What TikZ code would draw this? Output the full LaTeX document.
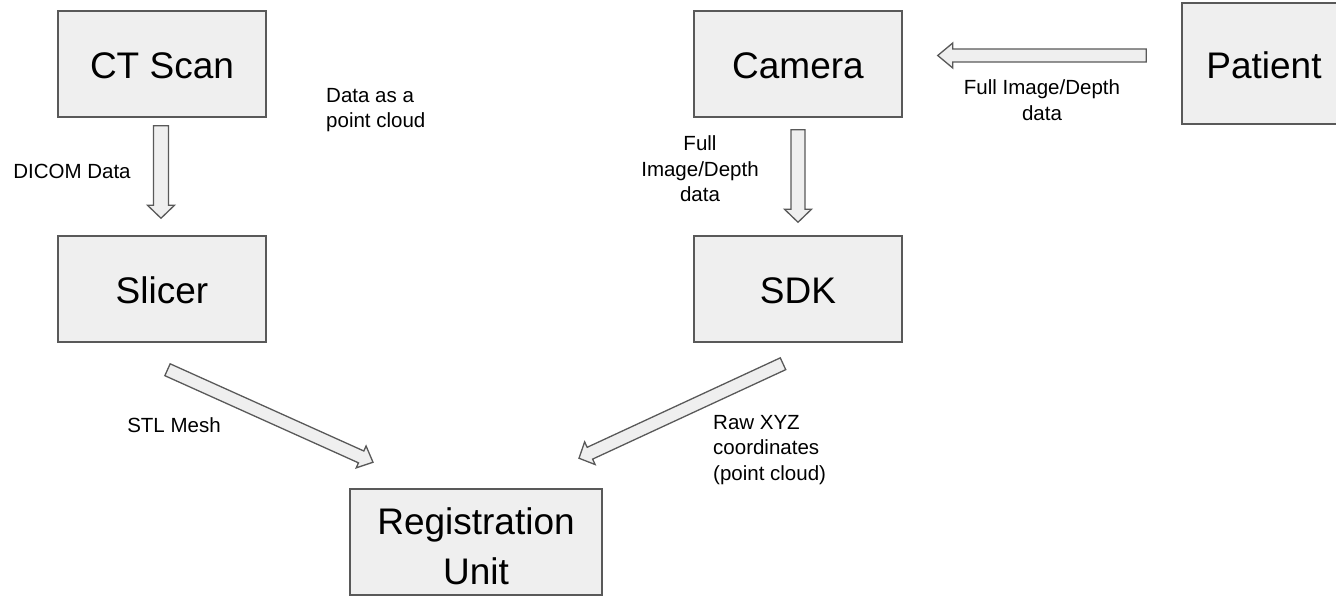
\documentclass[tikz,border=0pt]{standalone}
\usepackage{fontspec}
\setmainfont{Liberation Sans}
\usetikzlibrary{calc}
\definecolor{boxfill}{HTML}{EFEFEF}
\definecolor{boxline}{HTML}{595959}
% block arrow: from, to, half shaft width, half head width, head length
\newcommand\blockarrow[5]{%
  \coordinate (ba-h) at ($(#2)!#5!(#1)$);
  \draw[blockarr] ($(#1)!#3!90:(#2)$) -- ($(ba-h)!#3!90:(#2)$) -- ($(ba-h)!#4!90:(#2)$) -- (#2)
    -- ($(ba-h)!#4!-90:(#2)$) -- ($(ba-h)!#3!-90:(#2)$) -- ($(#1)!#3!-90:(#2)$) -- cycle;
}
\tikzset{
  box/.style={draw=boxline, fill=boxfill, line width=1.5pt, minimum width=208pt,
    minimum height=106pt, inner sep=0pt, font=\fontsize{37}{50}\selectfont, align=center},
  lbl/.style={font=\fontsize{20.5}{25.5}\selectfont, inner sep=0pt},
  blockarr/.style={draw=boxline, fill=boxfill, line width=1.3pt, line join=miter},
}
\begin{document}
\begin{tikzpicture}[x=1pt,y=-1pt]
\useasboundingbox (0,0) rectangle (1336,596);
\node[box] (ct) at (162,64) {\rule{0pt}{30pt}CT Scan};
\node[box] (slicer) at (162,289) {\rule{0pt}{30pt}Slicer};
\node[box] (camera) at (798,64) {\rule{0pt}{29pt}Camera};
\node[box] (sdk) at (798,289) {\rule{0pt}{30pt}SDK};
\node[box, minimum width=164pt, minimum height=121pt] (patient) at (1264,63.5) {\rule{0pt}{30pt}Patient};
\node[box, minimum width=252pt] (reg) at (476,542) {\rule{0pt}{36pt}Registration\\Unit};

\coordinate (a1s) at ($(ct.south)+(-1,8)$);
\coordinate (a1e) at ($(slicer.north)+(-1,-17)$);
\coordinate (a2s) at ($(camera.south)+(0,12)$);
\coordinate (a2e) at ($(sdk.north)+(0,-13)$);
\coordinate (a3s) at ($(patient.west)+(-35,-8)$);
\coordinate (a3e) at ($(camera.east)+(35,-8.5)$);
\coordinate (a4s) at ($(slicer.south)+(5.5,27)$);
\coordinate (a4e) at ($(reg.north)+(-103,-26)$);
\coordinate (a5s) at ($(sdk.south)+(-15,21)$);
\coordinate (a5e) at ($(reg.north)+(103,-30)$);

\blockarrow{a1s}{a1e}{7.5pt}{13.5pt}{13pt}
\blockarrow{a2s}{a2e}{7pt}{13.5pt}{13pt}
\blockarrow{a3s}{a3e}{6.5pt}{12.5pt}{15pt}
\blockarrow{a4s}{a4e}{6.5pt}{12pt}{13pt}
\blockarrow{a5s}{a5e}{6.5pt}{12.5pt}{12pt}

\node[lbl] (l1) at (72,171) {DICOM Data};
\node[lbl, anchor=west, align=left] (l2) at (326,110) {Data as a\\point cloud};
\node[lbl, align=center] (l3) at (1042,100) {Full Image/Depth\\data};
\node[lbl, align=center] (l4) at (700,169) {Full\\Image/Depth\\data};
\node[lbl] (l5) at (174,425) {STL Mesh};
\node[lbl, anchor=west, align=left] (l6) at (713,450) {Raw XYZ\\coordinates\\(point cloud)};
\end{tikzpicture}
\end{document}
